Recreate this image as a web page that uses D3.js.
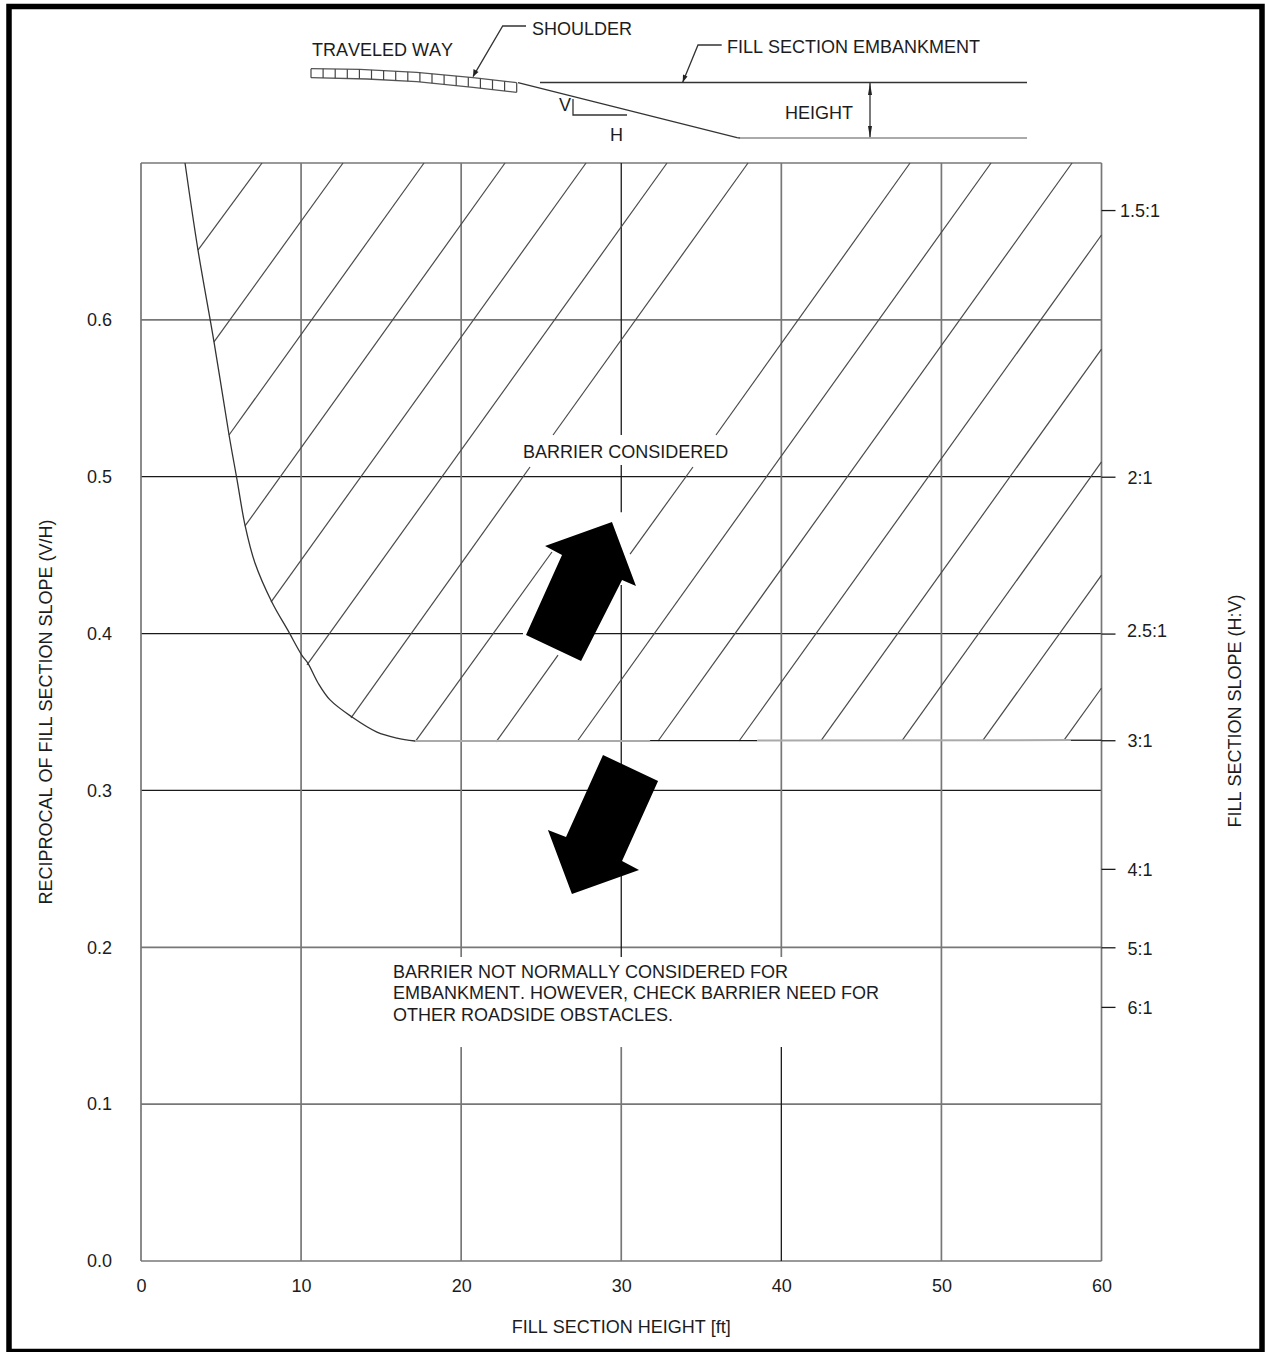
<!DOCTYPE html>
<html>
<head>
<meta charset="utf-8">
<script src="https://cdn.jsdelivr.net/npm/d3@7"></script>
<style>
  body { margin: 0; background: #fff; }
  text { font-family: "Liberation Sans", Arial, sans-serif; font-size: 18px; fill: #1c1c1c; font-kerning: none; }
  .soft { stroke: #777; stroke-width: 1.7; }
  .dark { stroke: #1a1a1a; stroke-width: 1.3; }
  .faint { stroke: #aaa; stroke-width: 2; }
  .hatch { stroke: #4a4a4a; stroke-width: 1.2; }
</style>
</head>
<body>
<svg id="chart" width="1265" height="1352"></svg>
<script>
const xTicks = [0, 10, 20, 30, 40, 50, 60];
const yTicks = [0, 0.1, 0.2, 0.3, 0.4, 0.5, 0.6];
const slopeValues = [0.67, 0.5, 0.4, 0.332, 0.25, 0.2, 0.162];
const slopeLabels = ['1.5:1', '2:1', '2.5:1', '3:1', '4:1', '5:1', '6:1'];

// [y, x from, x to, tone]
const gridRows = [
    [0.7, 0, 60, 'soft'], [0.6, 0, 60, 'soft'],
    [0.5, 0, 60, 'dark'],
    [0.4, 0, 23.86, 'dark'], [0.4, 26, 60, 'dark'],
    [0.3, 0, 60, 'dark'], [0.2, 0, 60, 'soft'],
    [0.1, 0, 60, 'soft'], [0, 0, 60, 'soft']
];
// [x, y from, y to, tone]
const gridCols = [
    [0, 0, 0.7, 'soft'], [60, 0, 0.7, 'soft'],
    [10, 0, 0.7, 'soft'], [50, 0, 0.7, 'soft'],
    [20, 0.1938, 0.7, 'soft'], [20, 0, 0.1364, 'soft'],
    [30, 0.5266, 0.7, 'dark'], [30, 0.4774, 0.5074, 'dark'], [30, 0.1938, 0.431, 'dark'], [30, 0, 0.1364, 'soft'],
    [40, 0.1938, 0.7, 'soft'], [40, 0, 0.1364, 'dark']
];

// barrier warrant boundary, [height, V/H]
const boundary = [
    [2.75, 0.7], [3.56, 0.6445], [4.56, 0.586], [5.5, 0.5266], [6, 0.498], [6.5, 0.469],
    [7.12, 0.445], [8.18, 0.42], [9.18, 0.402], [10.06, 0.386], [10.43, 0.381], [11.06, 0.3685],
    [11.81, 0.3577], [13.18, 0.3468], [14.74, 0.3372], [15.99, 0.3334], [17.12, 0.3315]
];
const floorParts = [
    [17.12, 0.3315, 31.8, 0.3315, 'faint'],
    [31.8, 0.3318, 38.5, 0.3318, 'dark'],
    [38.5, 0.3318, 58.09, 0.3321, 'faint'],
    [58.09, 0.332, 60, 0.332, 'dark']
];

// [x1, y1, x2, y2]
const hatchLines = [
    [3.56, 0.6445, 7.56, 0.7], [4.56, 0.5859, 12.62, 0.7], [5.5, 0.5266, 17.68, 0.7],
    [6.5, 0.4686, 22.74, 0.7], [8.12, 0.4201, 27.8, 0.7], [10.37, 0.38, 32.86, 0.7],
    [13.12, 0.3462, 24.3, 0.5062], [25.74, 0.5266, 37.92, 0.7],
    [17.12, 0.3309, 25.67, 0.452],
    [22.18, 0.3309, 26.05, 0.3863], [30.55, 0.4507, 34.48, 0.5062], [35.92, 0.5266, 48.04, 0.7],
    [27.24, 0.3312, 53.1, 0.7], [32.3, 0.3315, 58.16, 0.7], [37.36, 0.3315, 60, 0.6541],
    [42.48, 0.3318, 60, 0.5814], [47.54, 0.3318, 60, 0.5094], [52.6, 0.3321, 60, 0.4373],
    [57.66, 0.3321, 60, 0.3653]
];

const arrowUp = [[29.42, 0.4711], [30.92, 0.4303], [30.05, 0.4341], [27.49, 0.3825], [24.05, 0.3991], [26.3, 0.4501], [25.24, 0.4558]];
const arrowDown = [[28.86, 0.3226], [32.3, 0.306], [30.05, 0.255], [31.11, 0.2493], [26.92, 0.234], [25.42, 0.2748], [26.55, 0.2703]];

const notes = [
    ['BARRIER CONSIDERED', 23.87, 0.5119],
    ['BARRIER NOT NORMALLY CONSIDERED FOR', 15.74, 0.1804],
    ['EMBANKMENT. HOWEVER, CHECK BARRIER NEED FOR', 15.74, 0.167],
    ['OTHER ROADSIDE OBSTACLES.', 15.74, 0.1527]
];

// road section sketch above the plot, in its own units
const roadTop = [[0, 69.3], [49, 68.7], [105.7, 65.7], [162, 60.3], [205.7, 55.3]];
const roadBottom = [[0, 60.3], [56, 59], [105.7, 56.3], [162, 50.7], [205.7, 45.7]];
const roadCells = [0, 12.1, 24.2, 36.3, 48.4, 60.5, 72.6, 84.7, 96.8, 108.9, 121, 133.1, 145.2, 157.3, 169.4, 181.5, 193.6, 205.7];
const slopeLine = [[207, 55.3], [426, 0.3], [429, 0]];
const groundLine = [[429, 0], [716, 0]];
const fillTopLine = [[229, 55.5], [716, 55.5]];
const slopeKey = [[262, 39], [262, 23], [316, 23]];
const shoulderLeader = [[162, 61.3], [191.7, 112], [215, 112]];
const fillLeader = [[371.7, 55.7], [387, 93], [410.7, 93]];
const heightBar = [[559, 55], [559, 0]];
const sketchHeads = [
    [[162, 61.3], [162.5, 69], [167.5, 66]],
    [[371.7, 55.7], [372, 63.5], [376.5, 61.5]],
    [[559, 55], [557, 43], [561, 43]],
    [[559, 0], [557, 12], [561, 12]]
];
const sketchLabels = [
    ['SHOULDER', 221, 103], ['TRAVELED WAY', 1, 82], ['FILL SECTION EMBANKMENT', 416, 85],
    ['HEIGHT', 474, 19], ['V', 248, 27.4], ['H', 299, -3]
];

const svg = d3.select('#chart');
const x = d3.scaleLinear().domain([0, 60]).range([141, 1101.5]);
const y = d3.scaleLinear().domain([0, 0.7]).range([1261, 163]);
const sx = d3.scaleLinear().domain([0, 716]).range([311, 1027]);
const sy = d3.scaleLinear().domain([0, 118]).range([138, 20]);

// photo border
svg.append('rect')
    .attr('x', 9).attr('y', 6.5)
    .attr('width', 1253).attr('height', 1345)
    .attr('fill', 'none')
    .attr('stroke', '#000')
    .attr('stroke-width', 5.5);

const grid = svg.append('g');
grid.selectAll('.row')
    .data(gridRows)
    .enter()
    .append('line')
    .attr('class', d => 'row ' + d[3])
    .attr('x1', d => x(d[1]))
    .attr('x2', d => x(d[2]))
    .attr('y1', d => y(d[0]))
    .attr('y2', d => y(d[0]));
grid.selectAll('.col')
    .data(gridCols)
    .enter()
    .append('line')
    .attr('class', d => 'col ' + d[3])
    .attr('x1', d => x(d[0]))
    .attr('x2', d => x(d[0]))
    .attr('y1', d => y(d[1]))
    .attr('y2', d => y(d[2]));

svg.append('g')
    .selectAll('line')
    .data(hatchLines)
    .enter()
    .append('line')
    .attr('class', 'hatch')
    .attr('x1', d => x(d[0]))
    .attr('y1', d => y(d[1]))
    .attr('x2', d => x(d[2]))
    .attr('y2', d => y(d[3]));

const plotLine = d3.line().x(d => x(d[0])).y(d => y(d[1]));
svg.append('path')
    .attr('d', plotLine.curve(d3.curveCatmullRom)(boundary))
    .attr('fill', 'none')
    .attr('stroke', '#333')
    .attr('stroke-width', 1.3);
plotLine.curve(d3.curveLinear);
svg.append('g')
    .selectAll('line')
    .data(floorParts)
    .enter()
    .append('line')
    .attr('class', d => d[4])
    .attr('x1', d => x(d[0]))
    .attr('y1', d => y(d[1]))
    .attr('x2', d => x(d[2]))
    .attr('y2', d => y(d[3]));

svg.selectAll('.arrow')
    .data([arrowUp, arrowDown])
    .enter()
    .append('path')
    .attr('class', 'arrow')
    .attr('d', d => plotLine(d) + 'Z')
    .attr('fill', '#000');

// axes
const left = svg.append('g')
    .attr('transform', 'translate(' + x(0) + ',0)')
    .call(d3.axisLeft(y).tickValues(yTicks).tickFormat(d3.format('.1f')).tickSize(0).tickPadding(29));
const bottom = svg.append('g')
    .attr('transform', 'translate(0,' + y(0) + ')')
    .call(d3.axisBottom(x).tickValues(xTicks).tickSize(0).tickPadding(18));
const right = svg.append('g')
    .attr('transform', 'translate(' + x(60) + ',0)')
    .call(d3.axisRight(y).tickValues(slopeValues)
        .tickFormat((_, i) => slopeLabels[i]).tickSize(14).tickPadding(0));
[left, bottom, right].forEach(a => {
    a.attr('font-family', null).attr('font-size', null);
    a.select('.domain').remove();
});
right.selectAll('line').attr('stroke', '#1a1a1a').attr('stroke-width', 1.3);
right.selectAll('text')
    .attr('text-anchor', 'middle')
    .attr('x', (_, i) => slopeLabels[i] === '2.5:1' ? 45.5 : 38.5)
    .attr('y', (_, i) => slopeLabels[i] === '2.5:1' ? -2.5 : 1);

svg.append('text')
    .attr('transform', 'translate(52,712) rotate(-90)')
    .attr('text-anchor', 'middle')
    .text('RECIPROCAL OF FILL SECTION SLOPE (V/H)');
svg.append('text')
    .attr('transform', 'translate(1241,711) rotate(-90)')
    .attr('text-anchor', 'middle')
    .text('FILL SECTION SLOPE (H:V)');
svg.append('text')
    .attr('x', x(30)).attr('y', 1333)
    .attr('text-anchor', 'middle')
    .text('FILL SECTION HEIGHT [ft]');

svg.append('g')
    .selectAll('text')
    .data(notes)
    .enter()
    .append('text')
    .attr('x', d => x(d[1]))
    .attr('y', d => y(d[2]))
    .text(d => d[0]);

// road section sketch
const sketch = svg.append('g');
const sketchLine = d3.line().x(d => sx(d[0])).y(d => sy(d[1]));
const roadTopAt = d3.scaleLinear().domain(roadTop.map(d => d[0])).range(roadTop.map(d => d[1]));
const roadBottomAt = d3.scaleLinear().domain(roadBottom.map(d => d[0])).range(roadBottom.map(d => d[1]));

[roadTop, roadBottom].forEach(edge => {
    sketch.append('path')
        .attr('d', sketchLine(edge))
        .attr('fill', 'none')
        .attr('stroke', '#555')
        .attr('stroke-width', 1.3);
});
sketch.selectAll('.cell')
    .data(roadCells)
    .enter()
    .append('line')
    .attr('class', 'cell')
    .attr('x1', d => sx(d))
    .attr('x2', d => sx(d))
    .attr('y1', d => sy(roadTopAt(d)))
    .attr('y2', d => sy(roadBottomAt(d)))
    .attr('stroke', '#444')
    .attr('stroke-width', 1.2);

sketch.selectAll('.stroke')
    .data([slopeLine, fillTopLine, slopeKey, shoulderLeader, fillLeader, heightBar])
    .enter()
    .append('path')
    .attr('class', 'stroke')
    .attr('d', sketchLine)
    .attr('fill', 'none')
    .attr('stroke', '#333')
    .attr('stroke-width', 1.3);
sketch.append('path')
    .attr('class', 'faint')
    .attr('d', sketchLine(groundLine))
    .attr('fill', 'none');
sketch.selectAll('.head')
    .data(sketchHeads)
    .enter()
    .append('path')
    .attr('class', 'head')
    .attr('d', d => sketchLine(d) + 'Z')
    .attr('fill', '#222');
sketch.selectAll('text')
    .data(sketchLabels)
    .enter()
    .append('text')
    .attr('x', d => sx(d[1]))
    .attr('y', d => sy(d[2]))
    .text(d => d[0]);
</script>
</body>
</html>
